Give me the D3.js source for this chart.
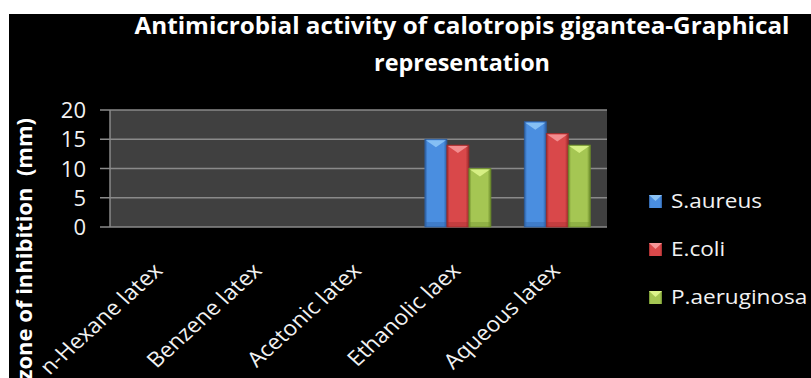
<!DOCTYPE html>
<html>
<head>
<meta charset="utf-8">
<script src="https://cdnjs.cloudflare.com/ajax/libs/d3/7.8.5/d3.min.js"></script>
<style>
  html, body { margin: 0; padding: 0; background: #fff; }
  svg { display: block; }
  text { white-space: pre; }
</style>
</head>
<body>
<svg id="chart" width="811" height="378"></svg>
<script>
// Zone of inhibition (mm) per latex extract and organism
const categories = ["n-Hexane latex", "Benzene latex", "Acetonic latex", "Ethanolic laex", "Aqueous latex"];
const seriesNames = ["S.aureus", "E.coli", "P.aeruginosa"];
const sAureus = [0, 0, 0, 15, 18];
const eColi = [0, 0, 0, 14, 16];
const pAeruginosa = [0, 0, 0, 10, 14];
const yTicks = [0, 5, 10, 15, 20];
const titleLines = ["Antimicrobial activity of calotropis gigantea-Graphical", "representation"];
const yTitle = "zone of inhibition  (mm)";

const seriesValues = [sAureus, eColi, pAeruginosa];
const palette = [
  { mid: "#4a8ee0", edge: "#2c5d9f", cap: "#8cc4f6" },
  { mid: "#d9484a", edge: "#9c2a2b", cap: "#f59597" },
  { mid: "#a5c653", edge: "#6b8a2a", cap: "#dcf38a" }
];

const svg = d3.select("#chart");
const W = 811, H = 378;
const plot = { left: 110, right: 607, top: 110, bottom: 227 };
const font = "'Open Sans', sans-serif";

// page frame: thin white margin then black canvas
svg.append("rect").attr("width", W).attr("height", H).attr("fill", "#fff");
svg.append("rect").attr("x", 9).attr("y", 14).attr("width", W - 9).attr("height", H - 14).attr("fill", "#000");

// gradients for the bevelled bars
const defs = svg.append("defs");
palette.forEach((c, i) => {
  const g = defs.append("linearGradient").attr("id", "bar" + i)
    .attr("x1", "0").attr("x2", "1").attr("y1", "0").attr("y2", "0");
  g.append("stop").attr("offset", "0").attr("stop-color", c.edge);
  g.append("stop").attr("offset", "0.12").attr("stop-color", c.mid);
  g.append("stop").attr("offset", "0.85").attr("stop-color", c.mid);
  g.append("stop").attr("offset", "1").attr("stop-color", c.edge);
});

const x0 = d3.scaleBand().domain(categories).range([plot.left, plot.right])
  .paddingInner(0.336).paddingOuter(0.168);
const x1 = d3.scaleBand().domain(seriesNames).range([0, x0.bandwidth()]);
const y = d3.scaleLinear().domain([0, 20]).range([plot.bottom, plot.top]);

// plot area
svg.append("rect")
  .attr("x", plot.left).attr("y", plot.top)
  .attr("width", plot.right - plot.left).attr("height", plot.bottom - plot.top)
  .attr("fill", "#404040");

// gridlines with short ticks to the left
const grid = svg.append("g");
grid.selectAll("line").data(yTicks).join("line")
  .attr("x1", plot.left - 10).attr("x2", plot.right)
  .attr("y1", d => y(d)).attr("y2", d => y(d))
  .attr("stroke", "#8a8a8a").attr("stroke-width", 1.5);
svg.append("line")
  .attr("x1", plot.left).attr("x2", plot.left)
  .attr("y1", plot.top).attr("y2", plot.bottom)
  .attr("stroke", "#8a8a8a").attr("stroke-width", 1.5);

// y axis labels
const yAxis = d3.axisLeft(y).tickValues(yTicks).tickSize(0).tickPadding(0);
const yg = svg.append("g").attr("transform", `translate(86,0)`).call(yAxis);
yg.select(".domain").remove();
yg.selectAll("text")
  .attr("fill", "#f2f2f2")
  .attr("font-family", font)
  .attr("font-size", 22)
  .attr("dy", "0.35em");

// bars
const groups = svg.append("g").selectAll("g")
  .data(categories).join("g")
  .attr("transform", d => `translate(${x0(d)},0)`);

groups.each(function (cat, ci) {
  const g = d3.select(this);
  seriesNames.forEach((s, si) => {
    const v = seriesValues[si][ci];
    if (!v) return;
    const bx = x1(s), bw = x1.bandwidth(), top = y(v), base = y(0);
    g.append("rect")
      .attr("x", bx).attr("y", top)
      .attr("width", bw).attr("height", base - top)
      .attr("fill", `url(#bar${si})`)
      .attr("stroke", palette[si].edge).attr("stroke-width", 0.8);
    // lighter bevel at the top of the bar
    g.append("path")
      .attr("d", `M${bx + 1},${top + 1} L${bx + bw - 1},${top + 1} L${bx + bw / 2},${top + 8} Z`)
      .attr("fill", palette[si].cap).attr("opacity", 0.9);
    // darker foot
    g.append("rect")
      .attr("x", bx + 1).attr("y", base - 5)
      .attr("width", bw - 2).attr("height", 5)
      .attr("fill", palette[si].edge).attr("opacity", 0.35);
  });
});

// category labels, slanted
svg.append("g").selectAll("text")
  .data(categories).join("text")
  .attr("transform", d => `translate(${x0(d) + x0.bandwidth() / 2 + 4},${plot.bottom + 45}) scale(1.1,1) rotate(-45)`)
  .attr("text-anchor", "end")
  .attr("fill", "#f2f2f2")
  .attr("font-family", font)
  .attr("font-size", 21)
  .text(d => d);

// y axis title
svg.append("text")
  .attr("transform", "translate(32,118) rotate(-90)")
  .attr("text-anchor", "end")
  .attr("fill", "#fff")
  .attr("font-family", font)
  .attr("font-weight", "bold")
  .attr("font-size", 22)
  .text(yTitle);

// chart title
svg.append("g").selectAll("text")
  .data(titleLines).join("text")
  .attr("x", 462)
  .attr("y", (d, i) => i === 0 ? 34 : 71)
  .attr("text-anchor", "middle")
  .attr("fill", "#fff")
  .attr("font-family", font)
  .attr("font-weight", "bold")
  .attr("font-size", 24)
  .attr("textLength", (d, i) => i === 0 ? 655 : 176)
  .attr("lengthAdjust", "spacingAndGlyphs")
  .text(d => d);

// legend
const legend = svg.append("g").selectAll("g")
  .data(seriesNames).join("g")
  .attr("transform", (d, i) => `translate(649,${195 + i * 48})`);
legend.append("rect")
  .attr("width", 13).attr("height", 13)
  .attr("fill", (d, i) => `url(#bar${i})`);
legend.append("path")
  .attr("d", "M0,0 L13,0 L6.5,6 Z")
  .attr("fill", (d, i) => palette[i].cap);
legend.append("text")
  .attr("transform", "translate(22,13) scale(1.1,1)")
  .attr("fill", "#f2f2f2")
  .attr("font-family", font)
  .attr("font-size", 20.5)
  .text(d => d);
</script>
</body>
</html>
